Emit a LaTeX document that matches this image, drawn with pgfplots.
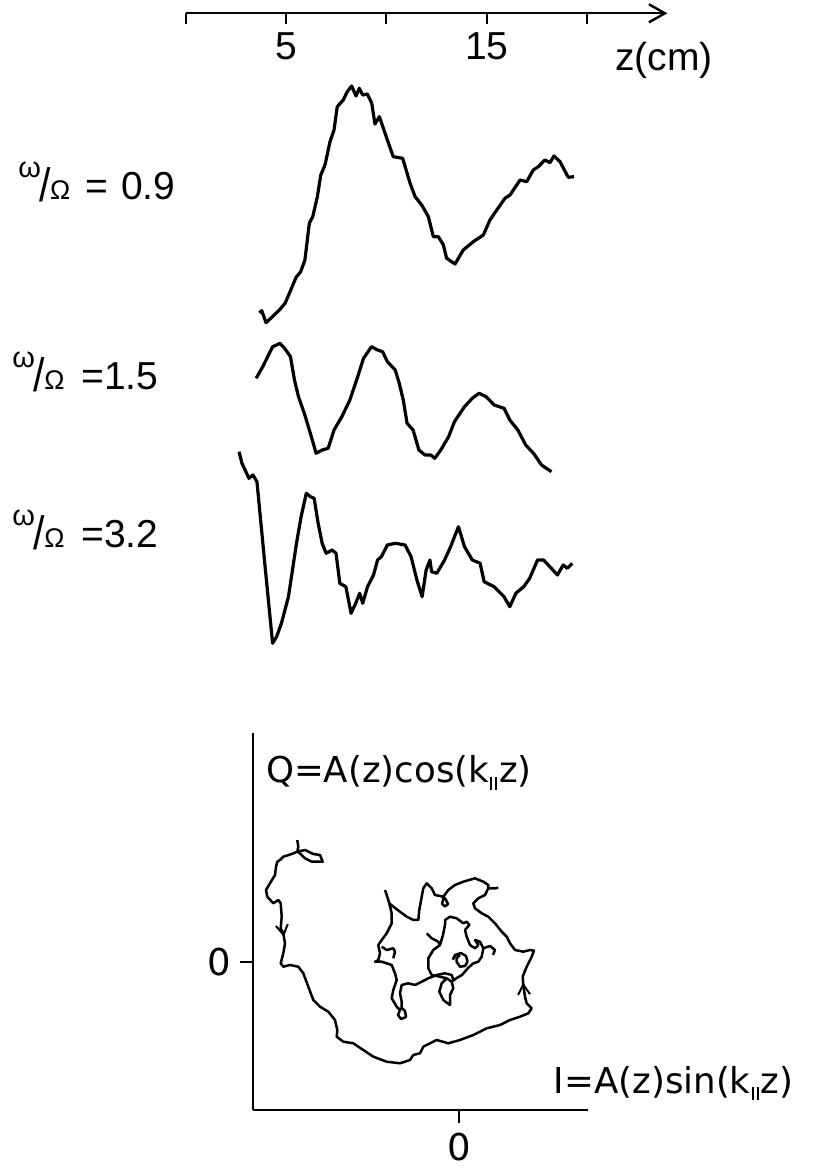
\documentclass[border=0pt]{standalone}
\usepackage{pgfplots}
\pgfplotsset{compat=1.18}
\usepackage{fontspec}
\setmainfont{Liberation Sans}
\newfontfamily\dejavu{DejaVu Sans}
\usetikzlibrary{arrows.meta,decorations.markings}

\newcommand{\wO}{\raisebox{11pt}{\fontsize{14.5}{15}\selectfont ω}\kern-0.8pt\raisebox{-1pt}{\scalebox{1.05}[1.2]{/}}\kern-0.3pt{\fontsize{13.5}{14}\selectfont Ω}}
\newcommand{\kpar}{k\kern0.6pt\raisebox{-3.5pt}{\rule{0.9pt}{6.5pt}\kern1.6pt\rule{0.9pt}{6.5pt}}\kern1pt}

\begin{document}
\begin{tikzpicture}
\useasboundingbox (0,0) rectangle (410pt,584pt);
% ---------------- z axis
\begin{axis}[at={(92.85pt,577.35pt)}, anchor=south west, scale only axis,
  width=240.84pt, height=2pt, xmin=0, xmax=24, ymin=0, ymax=1,
  axis x line=bottom, axis y line=none,
  x axis line style={line width=1pt, -{Straight Barb[length=8pt,width=9pt,line width=1.2pt]}},
  xtick={0,5,10,15,20}, xticklabels={,5,,15,}, ytick=\empty,
  tick align=outside, major tick length=5.5pt, tick style={line width=1pt, black},
  xticklabel style={font=\fontsize{19.5}{22}\selectfont, inner sep=0pt, anchor=north},
  xticklabel shift=3.85pt, clip=false]
\node[anchor=base west, inner sep=0pt, font=\fontsize{19.5}{22}\selectfont] at ([yshift=-28.5pt]axis cs:21.39,0) {z(cm)};
\end{axis}
% ---------------- three traces
\begin{axis}[at={(92.85pt,254pt)}, anchor=south west, scale only axis,
  width=240.84pt, height=320pt, xmin=0, xmax=24, ymin=-660, ymax=-20,
  axis lines=none, clip=false]
\addplot[black, line width=1.6pt, line join=round] coordinates {
(3.67,-312.7)(3.79,-310.7)(4.00,-322.7)(4.36,-316)(4.70,-309.3)(4.95,-303.3)(5.20,-291.7)(5.50,-277.3)(5.73,-271.7)(5.94,-260)(6.16,-223.3)(6.33,-216.7)(6.56,-196.7)(6.73,-175)(6.94,-165)(7.19,-141.7)(7.39,-130)(7.55,-106.7)(7.85,-100)(8.05,-91.7)(8.27,-86)(8.49,-96)(8.65,-88.3)(8.82,-95)(9.05,-94)(9.27,-103.3)(9.43,-124)(9.65,-116.7)(10.02,-138.3)(10.34,-156.7)(10.81,-158.3)(11.18,-183.3)(11.43,-196.7)(11.76,-205)(12.09,-216.7)(12.34,-236.7)(12.59,-236.7)(12.84,-245)(13.00,-258.3)(13.42,-264)(13.83,-250)(14.33,-241.7)(14.83,-235)(15.16,-220)(15.50,-210)(15.91,-198.3)(16.16,-195)(16.66,-180)(16.99,-181.7)(17.32,-170)(17.57,-166.7)(17.90,-160)(18.15,-162.7)(18.35,-156)(18.65,-161.7)(19.06,-177.3)(19.35,-176.7)};
\addplot[black, line width=1.6pt, line join=round] coordinates {
(3.51,-378.3)(3.84,-366.7)(4.33,-346.7)(4.53,-345)(4.69,-343.3)(4.93,-348.3)(5.22,-356.7)(5.42,-380)(5.62,-396.7)(5.91,-413.3)(6.21,-433.3)(6.50,-453.3)(6.80,-450)(7.10,-448.3)(7.39,-430)(7.78,-416.7)(8.18,-400)(8.57,-376.7)(8.86,-358.3)(9.26,-346.7)(9.56,-350)(9.81,-351.7)(10.05,-361.7)(10.44,-370)(10.64,-383.3)(10.84,-400)(11.03,-423.3)(11.33,-430)(11.62,-450)(11.92,-455)(12.21,-455)(12.41,-458.3)(12.71,-450)(13.10,-436.7)(13.39,-421.7)(13.89,-406.7)(14.28,-398.3)(14.62,-393.3)(14.97,-396.7)(15.37,-405)(15.86,-408.3)(16.15,-420)(16.55,-430)(16.94,-445)(17.33,-453.3)(17.73,-465)(18.22,-471.7)};
\addplot[black, line width=1.6pt, line join=round] coordinates {
(2.66,-451.7)(2.80,-463.3)(2.96,-470)(3.15,-478.3)(3.35,-475)(3.55,-481.7)(3.94,-563.3)(4.33,-643.3)(4.53,-636.7)(4.77,-623.3)(5.12,-596.7)(5.52,-543.3)(5.75,-516.7)(6.01,-493.3)(6.21,-496.7)(6.40,-498.3)(6.60,-523.3)(6.80,-543.3)(7.00,-553.3)(7.29,-550)(7.49,-553.3)(7.68,-583.3)(7.98,-586.7)(8.24,-613.3)(8.47,-603.3)(8.67,-593.3)(8.82,-603.3)(9.06,-586.7)(9.36,-575)(9.56,-560)(9.75,-556.7)(10.05,-545)(10.44,-543.3)(10.93,-545)(11.23,-556.7)(11.52,-580)(11.78,-596.7)(11.98,-570)(12.17,-560)(12.25,-571.7)(12.51,-573.3)(12.90,-560)(13.20,-546.7)(13.59,-526.7)(13.89,-546.7)(14.28,-560)(14.67,-563.3)(14.87,-581.7)(15.37,-586.7)(15.86,-596.7)(16.15,-606.7)(16.45,-593.3)(16.84,-586.7)(17.14,-578.3)(17.53,-560)(17.83,-560)(18.22,-568.3)(18.52,-575)(18.81,-565)(19.01,-568.3)(19.26,-563.3)};
\node[anchor=base west, inner sep=0pt, font=\fontsize{19.5}{22}\selectfont] at (axis cs:-8.356,-200) {\wO\hspace{7.5pt}= \kern1pt0.9};
\node[anchor=base west, inner sep=0pt, font=\fontsize{19.5}{22}\selectfont] at (axis cs:-8.65,-390) {\wO\hspace{8.5pt}=1.5};
\node[anchor=base west, inner sep=0pt, font=\fontsize{19.5}{22}\selectfont] at (axis cs:-8.65,-548) {\wO\hspace{8.5pt}=3.2};
\end{axis}
% ---------------- I-Q plane
\begin{axis}[at={(126.35pt,29pt)}, anchor=south west, scale only axis,
  width=167.65pt, height=188.5pt, xmin=-206.1, xmax=129.2, ymin=-148.3, ymax=228.7,
  axis x line*=bottom, axis y line*=left, axis line style={line width=1pt,-},
  xtick={0}, ytick={0}, xticklabels={0}, yticklabels={0},
  tick align=outside, major tick length=6.4pt, tick style={line width=1pt,black},
  ticklabel style={font=\dejavu\fontsize{18.5}{22}\selectfont, inner sep=0pt},
  xticklabel shift=5.1pt, yticklabel shift=4.45pt, clip=false]
\addplot[black, line width=1.25pt, line join=round,
  postaction={decorate}, decoration={markings,
   mark=at position 0.26 with {\arrow{Straight Barb[length=5pt,width=6pt,line width=1pt]}},
   mark=at position 0.79 with {\arrow{Straight Barb[length=5pt,width=6pt,line width=1pt]}}}] coordinates {
(-161.5,121.7)(-160.5,115.0)(-161.5,110.0)(-158.8,108.4)(-153.8,103.4)(-147.1,100.0)(-136.1,100.0)(-138.8,106.7)(-145.5,107.7)(-153.8,111.7)(-161.5,110.0)(-167.1,107.7)(-175.5,105.0)(-178.8,101.7)(-181.5,100.0)(-182.8,95.0)(-183.8,86.7)(-188.8,78.4)(-192.8,71.7)(-191.5,65.0)(-185.5,58.4)(-180.5,61.7)(-178.1,58.4)(-177.1,45.0)(-178.1,33.4)(-175.5,28.4)(-173.8,18.4)(-175.5,8.4)(-178.1,-1.6)(-175.5,-5.0)(-168.8,-3.3)(-160.5,-5.0)(-155.5,-11.6)(-150.5,-25.0)(-145.5,-38.3)(-138.8,-45.0)(-130.5,-50.0)(-123.8,-58.3)(-121.5,-68.3)(-122.1,-75.0)(-115.5,-80.0)(-105.5,-81.6)(-95.5,-88.3)(-85.5,-95.0)(-72.1,-100.0)(-58.8,-101.6)(-48.8,-98.3)(-45.5,-93.3)(-38.8,-91.6)(-35.5,-85.0)(-22.1,-78.3)(-10.5,-81.6)(1.2,-78.3)(14.5,-73.3)(27.9,-66.6)(41.2,-63.3)(51.2,-58.3)(61.2,-55.0)(69.5,-51.6)(72.9,-46.6)(67.9,-41.6)(66.2,-35.0)(64.5,-23.3)(63.9,-15.0)(67.9,-5.0)(72.9,5.0)(75.2,11.0)(71.2,11.7)(64.5,10.0)(56.2,11.7)(51.2,18.4)(47.9,25.0)(42.9,30.0)(36.2,38.4)(29.5,45.0)(22.9,48.4)(16.2,53.4)(14.5,58.4)(19.5,63.4)(26.2,66.7)(29.5,73.4)(36.2,73.4)(39.5,74.0)};
\addplot[black, line width=1.25pt, line join=round] coordinates {
(29.5,73.4)(29.5,76.7)(24.5,80.0)(16.2,83.4)(4.5,80.0)(-3.8,76.7)(-10.5,71.7)(-15.5,65.0)(-15.8,61.7)(-16.8,57.7)(-13.8,55.2)(-10.8,57.7)(-12.8,61.7)(-15.5,65.0)(-23.8,66.7)(-27.1,73.4)(-32.1,78.4)(-35.5,73.4)(-37.1,65.0)(-39.5,51.7)(-40.5,41.7)(-45.5,41.7)(-52.1,45.0)(-58.8,50.0)(-65.5,55.0)(-69.5,58.4)(-72.1,66.7)(-73.8,71.7)};
\addplot[black, line width=1.25pt, line join=round] coordinates {
(-69.5,58.4)(-67.1,48.4)(-67.1,38.4)(-72.1,28.4)(-77.1,21.7)(-80.5,16.7)(-78.8,8.4)(-80.5,1.7)(-83.8,0)(-77.1,0)(-67.1,-3.3)(-63.8,-11.6)(-62.1,-18.3)(-65.5,-28.3)(-67.1,-36.6)(-62.1,-45.0)(-58.8,-48.3)(-60.8,-53.3)(-57.8,-57.3)(-52.8,-55.3)(-53.8,-49.3)(-57.1,-46.3)(-57.1,-40.0)(-58.8,-31.6)(-57.1,-23.3)(-50.5,-21.6)(-43.8,-23.3)(-37.1,-20.0)(-30.5,-16.6)(-22.1,-13.3)(-13.8,-11.6)(-7.1,-13.3)(-5.5,-18)};
\addplot[black, line width=1.25pt, line join=round] coordinates {
(-77.1,15.0)(-72.1,11.7)(-65.5,13.4)(-63.8,10.0)(-65.5,3.4)};
\addplot[black, line width=1.25pt, line join=round] coordinates {
(-32.1,28.4)(-27.1,23.4)(-20.5,20.0)(-18.8,16.7)(-25.5,11.7)(-30.5,3.4)(-30.5,-6.6)(-27.1,-13.3)(-18.8,-15.0)(-12.1,-16.6)(-7.1,-20.0)(-5.5,-26.6)(-8.8,-33.3)(-8.8,-43.3)(-15.5,-38.3)(-19.5,-30.0)(-17.1,-21.6)(-12.1,-16.6)};
\addplot[black, line width=1.25pt, line join=round] coordinates {
(-18.8,16.7)(-15.8,26.7)(-13.8,36.7)(-13.8,41.7)(-8.8,45.0)(-2.1,43.4)(4.5,38.4)(7.9,40.0)(10.5,36.7)(6.2,31.7)(7.9,25.0)(11.2,16.7)(16.2,13.4)(19.5,16.7)(16.2,21.7)(21.2,20.0)(24.5,13.4)(22.9,5.0)(19.5,0)(14.5,-1.6)(9.2,-6.3)(3.2,-13.3)(-2.1,-16.3)(-7.1,-20.0)};
\addplot[black, line width=1.25pt, line join=round] coordinates {
(24.5,13.4)(31.2,15.7)(36.2,11.7)(34.2,6.7)};
\addplot[black, line width=1.25pt, line join=round] coordinates {
(1.2,6.7)(-2.1,3.7)(-2.1,-0.3)(1.2,-5.0)(6.2,-4.3)(8.7,0)(7.2,5.7)(2.2,8.7)(-3.8,6.7)(-6,2)};
\node[anchor=base west, inner sep=0pt, font=\dejavu\fontsize{17.8}{20}\selectfont] at (axis cs:-193.1,178.7) {Q=A(z)cos(\kpar z)};
\node[anchor=base west, inner sep=0pt, font=\dejavu\fontsize{17.8}{20}\selectfont] at (axis cs:94.7,-131.3) {I=A(z)sin(\kpar z)};
\end{axis}
\end{tikzpicture}
\end{document}
